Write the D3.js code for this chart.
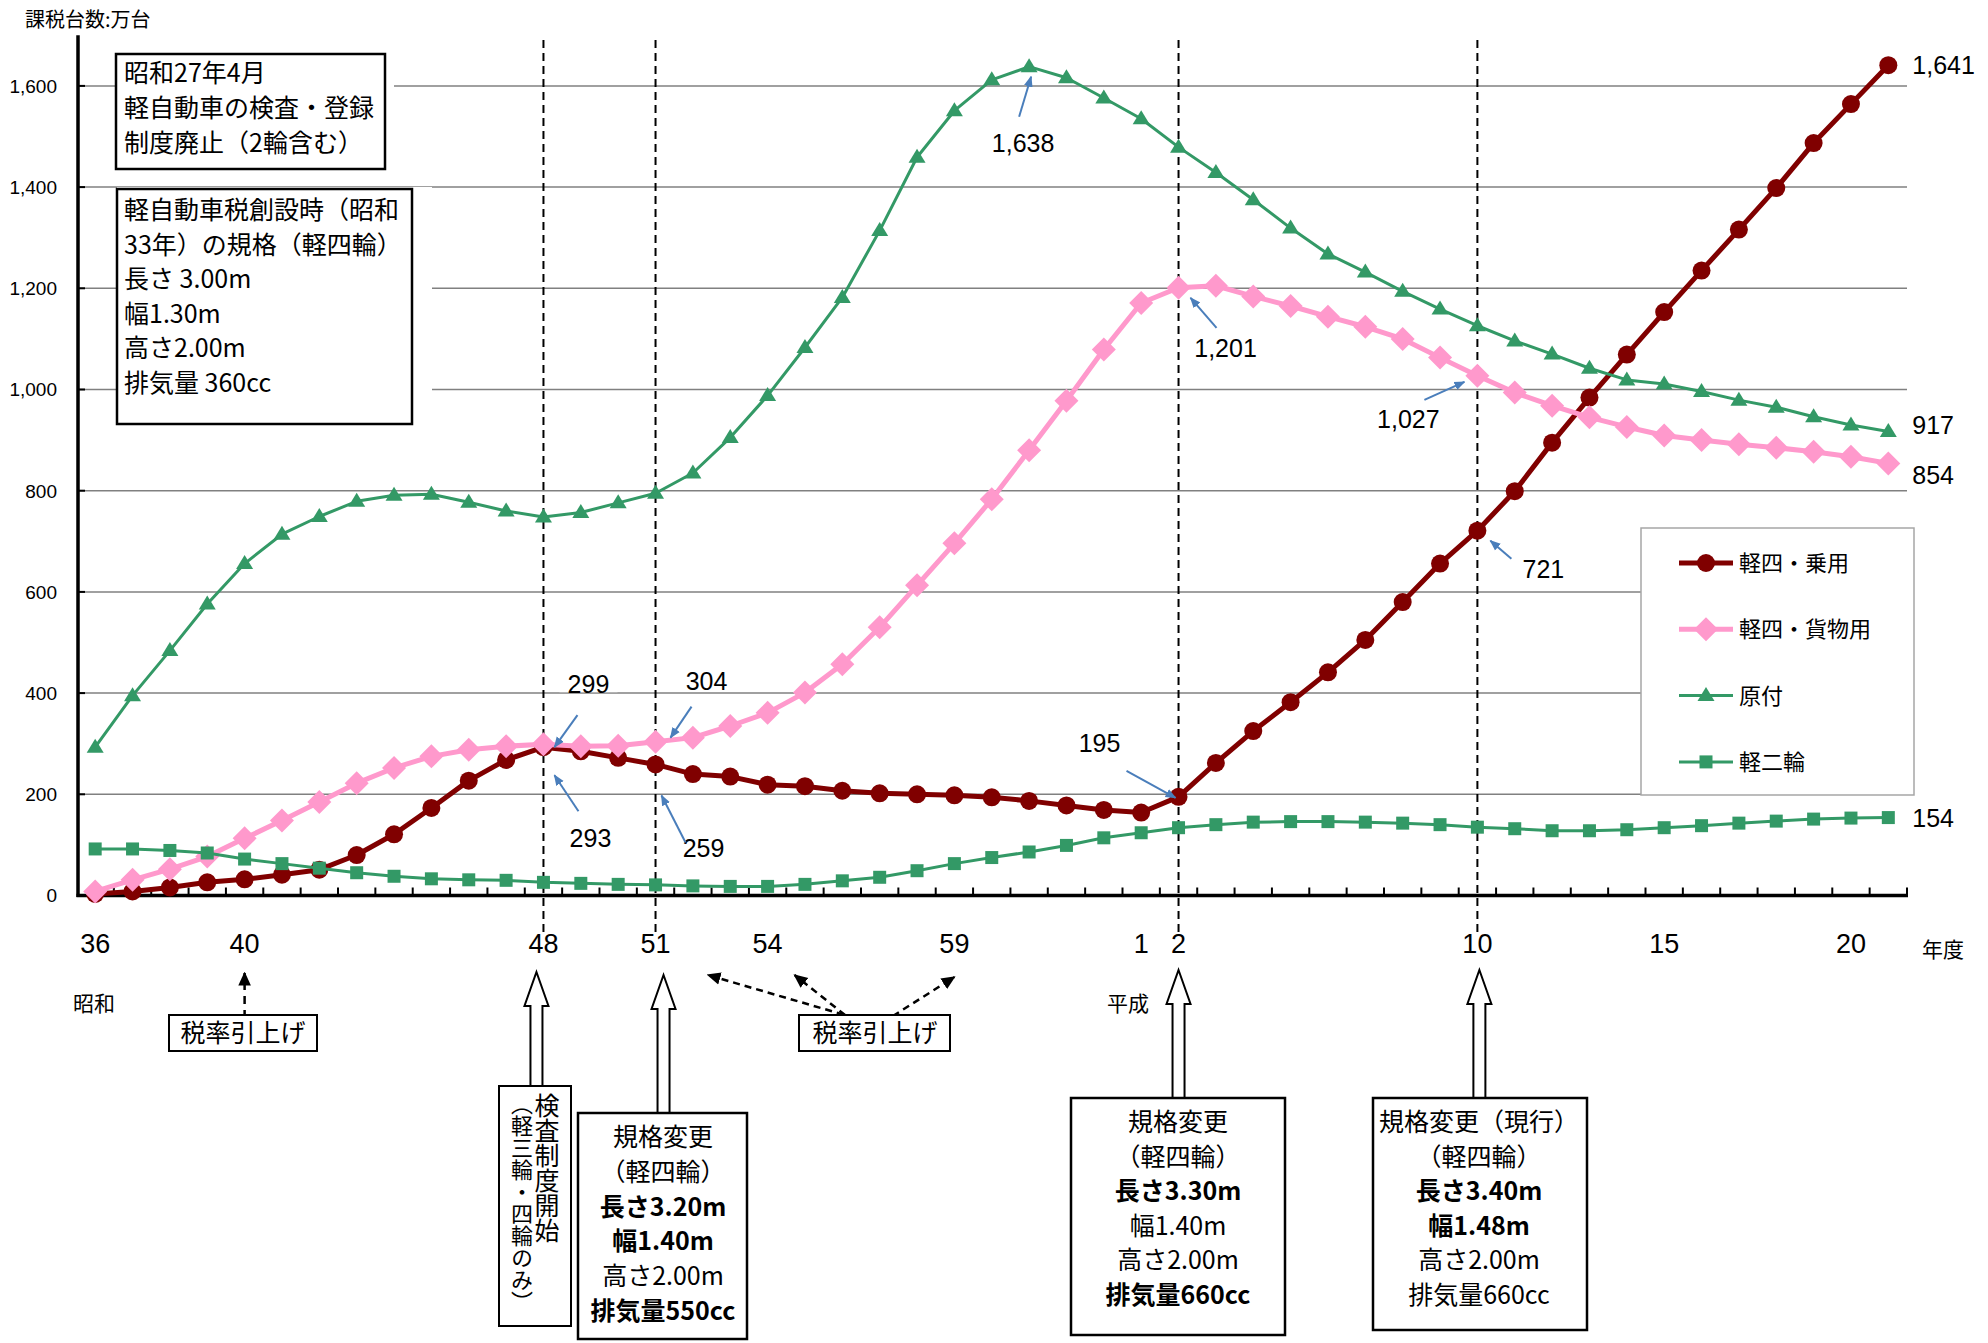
<!DOCTYPE html>
<html>
<head>
<meta charset="utf-8">
<script src="https://cdn.jsdelivr.net/npm/d3@7"></script>
<style>
  html, body { margin: 0; padding: 0; background: #fff; }
  svg { display: block; }
</style>
</head>
<body>
<svg id="chart" width="1988" height="1343"></svg>
<script>
// 年度 (昭和36年度 = 1961 ... 平成21年度 = 2009)
const fiscalYears = [1961,1962,1963,1964,1965,1966,1967,1968,1969,1970,
  1971,1972,1973,1974,1975,1976,1977,1978,1979,1980,
  1981,1982,1983,1984,1985,1986,1987,1988,1989,1990,
  1991,1992,1993,1994,1995,1996,1997,1998,1999,2000,
  2001,2002,2003,2004,2005,2006,2007,2008,2009];

// 課税台数（万台）
const keiJoyo = [3,8,16,26,32,41,51,80,121,173,227,268,293,285,272,259,240,
  235,219,216,207,202,200,198,194,187,178,169,164,195,262,325,382,
  441,505,580,656,721,799,895,984,1069,1153,1235,1316,1398,1487,1564,1641];
const keiKamotsu = [8,31,52,77,113,148,185,222,252,275,288,295,299,295,296,304,312,
  335,361,401,457,530,613,696,783,880,978,1079,1171,1201,1205,1184,1165,
  1144,1124,1100,1063,1027,994,968,945,926,909,900,892,885,877,867,854];
const gentsuki = [293,395,484,576,656,714,749,779,791,793,777,760,748,757,776,795,835,
  905,988,1083,1182,1314,1459,1551,1612,1638,1616,1576,1535,1479,1429,1375,1319,
  1268,1232,1194,1159,1126,1096,1070,1042,1019,1011,996,979,965,946,930,917];
const keiNirin = [92,92,89,84,72,63,54,45,38,33,31,30,26,24,22,21,19,
  18,18,22,29,36,49,63,75,86,99,114,124,134,140,145,146,
  146,145,143,140,135,132,128,128,130,134,138,143,147,151,153,154];

const seriesNames = ["軽四・乗用", "軽四・貨物用", "原付", "軽二輪"];

// x軸の目盛ラベル
const tickYears  = [1961,1965,1973,1976,1979,1984,1989,1990,1998,2003,2008];
const tickLabels = ["36","40","48","51","54","59","1","2","10","15","20"];

// y軸の目盛
const yTicks = [0,200,400,600,800,1000,1200,1400,1600];

const NUM_FONT = "'Liberation Sans', Arial, sans-serif";
const JP_FONT = "'Noto Sans CJK JP', 'Noto Sans', sans-serif";

const svg = d3.select("#chart");

const x = d3.scaleBand().domain(fiscalYears).range([76.5, 1907]).padding(0);
const cx = yr => x(yr) + x.bandwidth() / 2;
const y = d3.scaleLinear().domain([0, 1700]).range([895.5, 35.3]);

// ---- defs: arrow heads ----
const defs = svg.append("defs");
defs.append("marker").attr("id", "blueHead")
  .attr("viewBox", "0 0 10 10").attr("refX", 9).attr("refY", 5)
  .attr("markerWidth", 11).attr("markerHeight", 11)
  .attr("markerUnits", "userSpaceOnUse").attr("orient", "auto")
  .append("path").attr("d", "M0,1 L10,5 L0,9 Z").attr("fill", "#4a7ebb");
defs.append("marker").attr("id", "blackHead")
  .attr("viewBox", "0 0 10 10").attr("refX", 9).attr("refY", 5)
  .attr("markerWidth", 14).attr("markerHeight", 14)
  .attr("markerUnits", "userSpaceOnUse").attr("orient", "auto")
  .append("path").attr("d", "M0,0.5 L10,5 L0,9.5 Z").attr("fill", "#000");

// ---- gridlines ----
svg.append("g").selectAll("line").data(yTicks.filter(v => v > 0)).join("line")
  .attr("x1", 78).attr("x2", 1907)
  .attr("y1", d => y(d)).attr("y2", d => y(d))
  .attr("stroke", "#808080").attr("stroke-width", 1.5);

// ---- axis title ----
svg.append("text").attr("x", 25).attr("y", 27)
  .attr("font-family", JP_FONT).attr("font-size", 20).text("課税台数:万台");

// ---- y axis ----
svg.append("g").selectAll("text").data(yTicks).join("text")
  .attr("x", 57).attr("y", d => y(d)).attr("dy", "0.36em")
  .attr("text-anchor", "end").attr("font-family", NUM_FONT).attr("font-size", 19)
  .text(d => d3.format(",")(d));
svg.append("g").selectAll("line").data(yTicks).join("line")
  .attr("x1", 78).attr("x2", 85).attr("y1", d => y(d)).attr("y2", d => y(d))
  .attr("stroke", "#000").attr("stroke-width", 2);
svg.append("line").attr("x1", 78).attr("x2", 78).attr("y1", y(1700)).attr("y2", y(0) + 1.5)
  .attr("stroke", "#000").attr("stroke-width", 3.5);

// ---- x axis ----
const bounds = fiscalYears.map(d => x(d)).concat([x.range()[1]]);
svg.append("g").selectAll("line").data(bounds.slice(1)).join("line")
  .attr("x1", d => d).attr("x2", d => d).attr("y1", y(0)).attr("y2", y(0) - 8)
  .attr("stroke", "#000").attr("stroke-width", 2);
svg.append("line").attr("x1", 76.5).attr("x2", 1908).attr("y1", y(0)).attr("y2", y(0))
  .attr("stroke", "#000").attr("stroke-width", 3.5);
svg.append("g").selectAll("text").data(tickYears).join("text")
  .attr("x", d => cx(d)).attr("y", 953).attr("text-anchor", "middle")
  .attr("font-family", NUM_FONT).attr("font-size", 27)
  .text((d, i) => tickLabels[i]);
svg.append("text").attr("x", 1922).attr("y", 957).attr("font-family", JP_FONT)
  .attr("font-size", 21).text("年度");
svg.append("text").attr("x", 73).attr("y", 1011).attr("font-family", JP_FONT)
  .attr("font-size", 21).text("昭和");
svg.append("text").attr("x", 1107).attr("y", 1011).attr("font-family", JP_FONT)
  .attr("font-size", 21).text("平成");

// ---- dashed reference lines ----
const refYears = [1973, 1976, 1990, 1998];
svg.append("g").selectAll("line").data(refYears).join("line")
  .attr("x1", d => cx(d)).attr("x2", d => cx(d)).attr("y1", 40).attr("y2", 935)
  .attr("stroke", "#000").attr("stroke-width", 2).attr("stroke-dasharray", "8,5");

// ---- text boxes in plot ----
function textBox(x0, y0, w, h, lines, tx, by, step, padRight) {
  svg.append("rect").attr("x", x0).attr("y", y0 - 2).attr("width", w + padRight).attr("height", h + 4)
    .attr("fill", "#fff");
  svg.append("rect").attr("x", x0).attr("y", y0).attr("width", w).attr("height", h)
    .attr("fill", "none").attr("stroke", "#000").attr("stroke-width", 2.5);
  svg.append("g").selectAll("text").data(lines).join("text")
    .attr("x", tx).attr("y", (d, i) => by + i * step)
    .attr("font-family", JP_FONT).attr("font-size", 25).text(d => d);
}
textBox(116, 54, 269, 115, ["昭和27年4月", "軽自動車の検査・登録", "制度廃止（2輪含む）"], 124, 82, 35, 9);
textBox(117, 189, 295, 235, ["軽自動車税創設時（昭和", "33年）の規格（軽四輪）", "長さ 3.00m", "幅1.30m", "高さ2.00m", "排気量 360cc"], 124, 219, 34.5, 20);

// ---- legend ----
const legend = svg.append("g");
legend.append("rect").attr("x", 1641).attr("y", 528).attr("width", 273).attr("height", 267)
  .attr("fill", "#fff").attr("stroke", "#a6a6a6").attr("stroke-width", 1.5);

// ---- marker shapes ----
function markerPath(type) {
  switch (type) {
    case "circle": return d3.symbol(d3.symbolCircle, Math.PI * 9 * 9)();
    case "diamond": return "M0,-12 L12,0 L0,12 L-12,0 Z";
    case "triangle": return "M0,-8.5 L8.5,5.5 L-8.5,5.5 Z";
    case "square": return "M-6.5,-6.5 L6.5,-6.5 L6.5,6.5 L-6.5,6.5 Z";
  }
}

const series = [
  { name: seriesNames[0], values: keiJoyo, color: "#800000", width: 5, marker: "circle" },
  { name: seriesNames[1], values: keiKamotsu, color: "#ff99cc", width: 5, marker: "diamond" },
  { name: seriesNames[2], values: gentsuki, color: "#339966", width: 3, marker: "triangle" },
  { name: seriesNames[3], values: keiNirin, color: "#339966", width: 3, marker: "square" }
];

const line = d3.line().x((d, i) => cx(fiscalYears[i])).y(d => y(d));

series.forEach(s => {
  const g = svg.append("g");
  g.append("path").attr("d", line(s.values)).attr("fill", "none")
    .attr("stroke", s.color).attr("stroke-width", s.width).attr("stroke-linejoin", "round");
  g.selectAll("path.m").data(s.values).join("path").attr("class", "m")
    .attr("transform", (d, i) => `translate(${cx(fiscalYears[i])},${y(d)})`)
    .attr("d", markerPath(s.marker)).attr("fill", s.color);
});

series.forEach((s, i) => {
  const ly = 563 + i * 66.3;
  legend.append("line").attr("x1", 1679).attr("x2", 1733).attr("y1", ly).attr("y2", ly)
    .attr("stroke", s.color).attr("stroke-width", s.width);
  legend.append("path").attr("transform", `translate(1706,${ly})`)
    .attr("d", markerPath(s.marker)).attr("fill", s.color);
  legend.append("text").attr("x", 1739).attr("y", ly).attr("dy", "0.36em")
    .attr("font-family", JP_FONT).attr("font-size", 22).text(s.name);
});
legend.raise();

// ---- value call-outs (offsets from the data point) ----
const callouts = [
  { s: 2, yr: 1986, lx: -6,  ly: 78,  a: [-10, 50, 2, 10] },
  { s: 1, yr: 1990, lx: 47,  ly: 62,  a: [38, 40, 12, 10] },
  { s: 1, yr: 1998, lx: -69, ly: 45,  a: [-53, 24, -13, 6] },
  { s: 0, yr: 1998, lx: 66,  ly: 40,  a: [34, 28, 13, 10] },
  { s: 0, yr: 1990, lx: -79, ly: -52, a: [-52, -26, -3, 1] },
  { s: 0, yr: 1976, lx: 48,  ly: 86,  a: [30, 78, 6, 31] },
  { s: 1, yr: 1976, lx: 51,  ly: -59, a: [36, -35, 15, -4], bg: true },
  { s: 1, yr: 1973, lx: 45,  ly: -58, a: [34, -29, 11, 3], bg: true },
  { s: 0, yr: 1973, lx: 47,  ly: 93,  a: [35, 64, 11, 28] }
];
callouts.forEach(c => {
  const v = series[c.s].values[fiscalYears.indexOf(c.yr)];
  const px = cx(c.yr), py = y(v);
  const label = d3.format(",")(v);
  if (c.bg) {
    svg.append("rect").attr("x", px + c.lx - 29).attr("y", py + c.ly - 24)
      .attr("width", 58).attr("height", 30).attr("fill", "#fff");
  }
  svg.append("text").attr("x", px + c.lx).attr("y", py + c.ly + 7)
    .attr("text-anchor", "middle").attr("font-family", NUM_FONT).attr("font-size", 25)
    .text(label);
  svg.append("line").attr("x1", px + c.a[0]).attr("y1", py + c.a[1])
    .attr("x2", px + c.a[2]).attr("y2", py + c.a[3])
    .attr("stroke", "#4a7ebb").attr("stroke-width", 2).attr("marker-end", "url(#blueHead)");
});

// ---- end-of-series labels ----
const endOffsets = [0, 12, -6, 0];
series.forEach((s, i) => {
  const v = s.values[s.values.length - 1];
  svg.append("text").attr("x", cx(2009) + 24).attr("y", y(v) + endOffsets[i])
    .attr("dy", "0.36em").attr("font-family", NUM_FONT).attr("font-size", 25)
    .text(d3.format(",")(v));
});

// ---- annotations below the axis ----
function blockArrow(xt, yt, yb) {
  const hw = 12, sw = 6, hh = 34;
  const pts = [[xt, yt], [xt + hw, yt + hh], [xt + sw, yt + hh], [xt + sw, yb],
               [xt - sw, yb], [xt - sw, yt + hh], [xt - hw, yt + hh]];
  svg.append("path").attr("d", "M" + pts.map(p => p.join(",")).join("L") + "Z")
    .attr("fill", "#fff").attr("stroke", "#000").attr("stroke-width", 2);
}
function specBox(x0, y0, w, h, lines, cxText, cy0, step) {
  svg.append("rect").attr("x", x0).attr("y", y0).attr("width", w).attr("height", h)
    .attr("fill", "#fff").attr("stroke", "#000").attr("stroke-width", 2.5);
  svg.append("g").selectAll("text").data(lines).join("text")
    .attr("x", cxText).attr("y", (d, i) => cy0 + i * step).attr("dy", "0.36em")
    .attr("text-anchor", "middle").attr("font-family", JP_FONT).attr("font-size", 25)
    .attr("font-weight", d => d.b ? 700 : 400).text(d => d.t);
}

// 税率引上げ (昭和40年)
svg.append("line").attr("x1", cx(1965)).attr("x2", cx(1965)).attr("y1", 1018).attr("y2", 973)
  .attr("stroke", "#000").attr("stroke-width", 2.5).attr("stroke-dasharray", "8,6")
  .attr("marker-end", "url(#blackHead)");
svg.append("rect").attr("x", 169).attr("y", 1015).attr("width", 148).attr("height", 36)
  .attr("fill", "#fff").attr("stroke", "#000").attr("stroke-width", 2);
svg.append("text").attr("x", 243).attr("y", 1033).attr("dy", "0.36em").attr("text-anchor", "middle")
  .attr("font-family", JP_FONT).attr("font-size", 25).text("税率引上げ");

// 税率引上げ (昭和51・54・59年)
[[855, 1018, cx(1977) + 15, 975], [845, 1015, cx(1979) + 27, 975], [893, 1016, cx(1984), 977]]
  .forEach(a => {
    svg.append("line").attr("x1", a[0]).attr("y1", a[1]).attr("x2", a[2]).attr("y2", a[3])
      .attr("stroke", "#000").attr("stroke-width", 2.5).attr("stroke-dasharray", "7,5")
      .attr("marker-end", "url(#blackHead)");
  });
svg.append("rect").attr("x", 799).attr("y", 1015).attr("width", 151).attr("height", 36)
  .attr("fill", "#fff").attr("stroke", "#000").attr("stroke-width", 2);
svg.append("text").attr("x", 875).attr("y", 1033).attr("dy", "0.36em").attr("text-anchor", "middle")
  .attr("font-family", JP_FONT).attr("font-size", 25).text("税率引上げ");

// 昭和48年 検査制度開始
blockArrow(cx(1973) - 7, 972, 1087);
svg.append("rect").attr("x", 499).attr("y", 1086).attr("width", 72).attr("height", 240)
  .attr("fill", "#fff").attr("stroke", "#000").attr("stroke-width", 2);
svg.append("text").attr("x", 547).attr("y", 1093).style("writing-mode", "vertical-rl")
  .attr("font-family", JP_FONT).attr("font-size", 25).text("検査制度開始");
svg.append("text").attr("x", 522).attr("y", 1093).style("writing-mode", "vertical-rl")
  .attr("font-family", JP_FONT).attr("font-size", 22).text("（軽三輪・四輪のみ）");

// 昭和51年 規格変更
blockArrow(cx(1976) + 8, 975, 1114);
specBox(578, 1113, 169, 226, [
  { t: "規格変更" }, { t: "（軽四輪）" }, { t: "長さ3.20m", b: true },
  { t: "幅1.40m", b: true }, { t: "高さ2.00m" }, { t: "排気量550cc", b: true }
], 663, 1137, 34.8);

// 平成2年 規格変更
blockArrow(cx(1990), 970, 1099);
specBox(1071, 1098, 214, 237, [
  { t: "規格変更" }, { t: "（軽四輪）" }, { t: "長さ3.30m", b: true },
  { t: "幅1.40m" }, { t: "高さ2.00m" }, { t: "排気量660cc", b: true }
], 1178, 1122, 34.6);

// 平成10年 規格変更（現行）
blockArrow(cx(1998) + 2, 970, 1099);
specBox(1373, 1098, 214, 232, [
  { t: "規格変更（現行）" }, { t: "（軽四輪）" }, { t: "長さ3.40m", b: true },
  { t: "幅1.48m", b: true }, { t: "高さ2.00m" }, { t: "排気量660cc" }
], 1479, 1122, 34.6);
</script>
</body>
</html>
